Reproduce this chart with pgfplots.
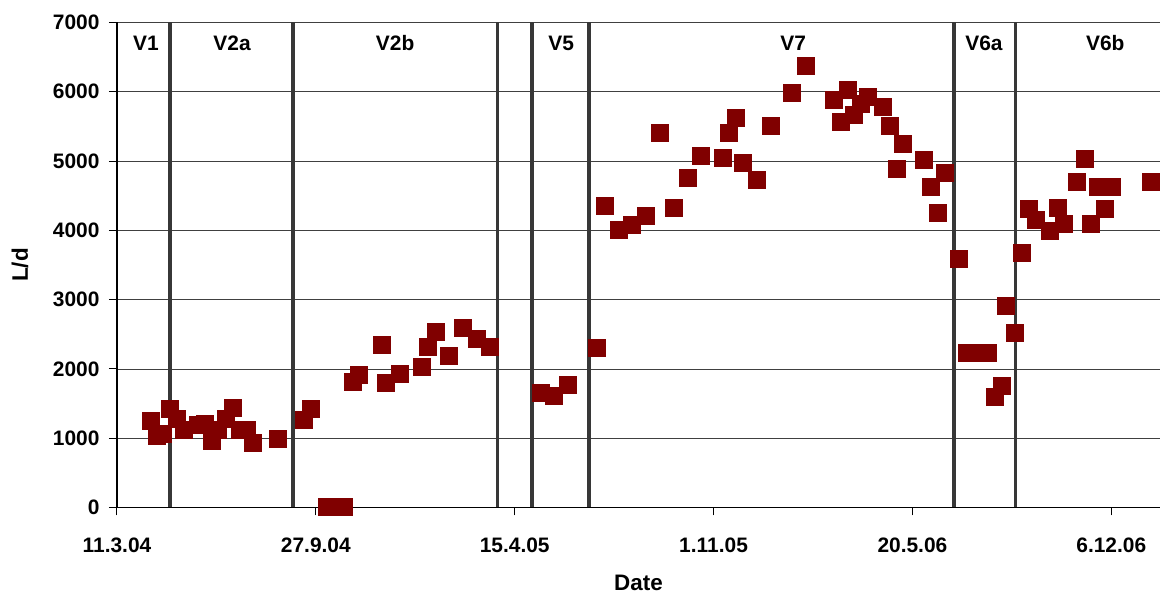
\documentclass[border=0pt]{standalone}
\usepackage{fontspec}
\setmainfont{Liberation Sans}
\usepackage{pgfplots}
\pgfplotsset{compat=1.18}
\definecolor{pt}{RGB}{128,0,0}
\definecolor{sepc}{RGB}{55,55,55}
\begin{document}
\begin{tikzpicture}
\begin{axis}[
  scale only axis, width=1043bp, height=485bp,
  xmin=0, xmax=1049, ymin=0, ymax=7000,
  axis x line*=bottom, axis y line*=left,
  axis line style={-, black, line width=1.2bp},
  xtick={0,200,...,1000},
  xticklabels={11.3.04,27.9.04,15.4.05,1.11.05,20.5.06,6.12.06},
  ytick={0,1000,...,7000},
  ymajorgrids, grid style={black!75, line width=0.8bp},
  tick align=outside, major tick length=8bp,
  tick style={black, line width=1bp},
  /pgf/number format/assume math mode=true,
  /pgf/number format/1000 sep={},
  tick label style={font=\fontsize{21}{25}\selectfont\bfseries},
  xticklabel style={yshift=-19bp},
  yticklabel style={xshift=-6bp},
  xlabel={Date}, ylabel={L/d},
  label style={font=\fontsize{22.5}{27}\selectfont\bfseries},
  xlabel style={at={(axis description cs:0.5,0)}, anchor=center, yshift=-75.5bp},
  ylabel style={at={(axis description cs:0,0.5)}, anchor=center, yshift=97bp},
  clip=false,
]
% period separators
\addplot[sepc, line width=3.5bp] coordinates {(53.3,0) (53.3,7000)};
\addplot[sepc, line width=3.5bp] coordinates {(176.8,0) (176.8,7000)};
\addplot[sepc, line width=3.5bp] coordinates {(382.6,0) (382.6,7000)};
\addplot[sepc, line width=3.5bp] coordinates {(417.2,0) (417.2,7000)};
\addplot[sepc, line width=3.5bp] coordinates {(474.5,0) (474.5,7000)};
\addplot[sepc, line width=3.5bp] coordinates {(841.8,0) (841.8,7000)};
\addplot[sepc, line width=3.5bp] coordinates {(903.7,0) (903.7,7000)};
% data
\addplot[only marks, mark=square*, mark size=8.5bp, mark options={draw=pt, fill=pt, line width=0pt}] coordinates {
(33.9,1250) (40,1038) (46,1062) (53.6,1418) (60.7,1278) (67.4,1120)
(81.5,1192) (88.9,1202) (95.9,961) (102,1120) (109.7,1278) (116.7,1442)
(123.7,1120) (130.5,1120) (137,937) (161.7,990) (187.6,1264) (194.8,1423)
(211,0) (228,0) (237,1817) (243.8,1913) (267,2346) (271,1798) (285,1928)
(306.8,2033) (312.9,2317) (320.6,2539) (333.7,2188) (347.8,2596) (362.2,2428)
(375.6,2322) (426.9,1649) (439.6,1610) (453.7,1765) (482.6,2299)
(491,4348) (505,4001) (518,4078) (531.9,4213) (546,5401) (560,4323)
(573.8,4756) (587.8,5078) (609,5040) (615.7,5401) (623,5617) (630,4968)
(643.9,4727) (658,5511) (678.8,5978) (692.8,6372) (721.3,5881) (728,5560)
(735,6026) (741.7,5665) (748.5,5820) (755.8,5930) (770,5785) (777,5511)
(784,4882) (791,5247) (811.6,5011) (818.9,4622) (826,4246) (833,4824)
(847,3587) (854.8,2235) (865.5,2235) (876,2235) (883,1600) (890,1759)
(894.5,2909) (903,2515) (910,3669) (917,4309) (924,4150) (938,3991)
(946,4319) (952,4092) (966,4703) (974,5026) (980,4092) (987,4631)
(993.6,4309) (1000.7,4631) (1040,4694)
};
% period labels
\begin{scope}[every node/.style={font=\fontsize{21}{25}\selectfont\bfseries}]
\node at (axis cs:29.2,6704) {V1};
\node at (axis cs:115.7,6704) {V2a};
\node at (axis cs:279.7,6704) {V2b};
\node at (axis cs:446.7,6704) {V5};
\node at (axis cs:680,6704) {V7};
\node at (axis cs:872,6704) {V6a};
\node at (axis cs:994,6704) {V6b};
\end{scope}
\end{axis}
\path ([yshift=22.5bp]current axis.north);
\path ([xshift=3bp]current axis.east);
\path ([xshift=-117bp]current axis.west);
\path ([yshift=-86.4bp]current axis.south);
\end{tikzpicture}
\end{document}
